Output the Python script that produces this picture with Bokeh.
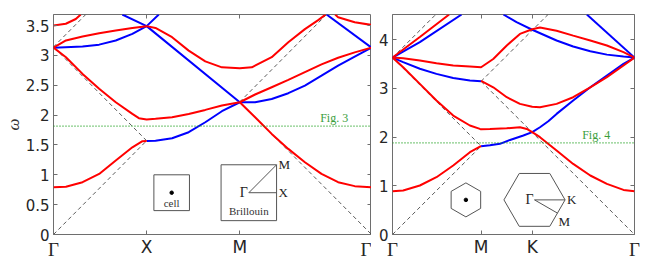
import math
from bokeh.plotting import figure
from bokeh.models import Range1d, FixedTicker, LinearAxis, Label, Span
from bokeh.layouts import row
from bokeh.embed import file_html
from bokeh.resources import INLINE

# ---------------- data: square lattice (left) ----------------
SQ_TICKS = [0.0, 1.5708, 3.1416, 5.3630]          # Γ, X, M, Γ
SQ_TICK_LABELS = ["Γ", "X", "M", "Γ"]
SQ_YMAX = 3.685
SQ_YTICKS = [0, 0.5, 1, 1.5, 2, 2.5, 3, 3.5]
SQ_LEVEL = 1.814

sq_red_k = [
    [0, 0.21, 0.49, 0.77, 1.05, 1.33, 1.50, 1.5708],
    [0, 0.21, 0.49, 0.77, 1.05, 1.33, 1.44, 1.5708, 1.72, 2.0, 2.28, 2.56, 2.84, 3.1416],
    [0, 0.21, 0.49, 0.77, 1.05, 1.33, 1.5708, 1.72, 2.0, 2.28, 2.56, 2.84, 3.1416,
     3.345, 3.68, 3.96, 4.24, 4.47, 4.59],
    [0, 0.208, 0.376, 0.46],
    [4.75, 4.80, 5.08, 5.363],
    [3.1416, 3.40, 3.68, 3.96, 4.24, 4.52, 4.80, 5.08, 5.363],
    [3.1416, 3.40, 3.68, 3.96, 4.24, 4.52, 4.80, 5.08, 5.363],
]
sq_red_w = [
    [0.79, 0.80, 0.876, 1.015, 1.24, 1.46, 1.563, 1.568],
    [3.13, 2.97, 2.69, 2.44, 2.216, 2.02, 1.948, 1.926, 1.937, 1.965, 2.02, 2.087, 2.16, 2.215],
    [3.13, 3.25, 3.317, 3.372, 3.417, 3.46, 3.49, 3.46, 3.305, 3.08, 2.90, 2.80, 2.786,
     2.80, 2.97, 3.22, 3.44, 3.595, 3.685],
    [3.50, 3.53, 3.61, 3.685],
    [3.685, 3.64, 3.556, 3.51],
    [2.215, 2.345, 2.467, 2.59, 2.72, 2.85, 2.96, 3.05, 3.13],
    [2.215, 1.965, 1.685, 1.434, 1.21, 1.015, 0.876, 0.81, 0.79],
]
sq_blue_k = [
    [0, 0.49, 0.77, 1.05, 1.33, 1.5708, 1.776],
    [1.16, 1.5708, 3.1416],
    [1.5708, 1.72, 2.0, 2.28, 2.56, 2.84, 3.1416],
    [3.1416, 3.40, 3.68, 3.96, 4.24, 4.52, 4.80, 5.08, 5.363],
    [4.605, 5.363],
]
sq_blue_w = [
    [3.13, 3.15, 3.18, 3.25, 3.36, 3.49, 3.685],
    [3.685, 3.49, 2.215],
    [1.568, 1.57, 1.613, 1.713, 1.88, 2.065, 2.215],
    [2.215, 2.216, 2.27, 2.367, 2.495, 2.66, 2.83, 2.98, 3.13],
    [3.685, 3.13],
]
sq_dash_k = [[0, 1.5708], [1.5708, 0], [0, 0.544], [3.1416, 5.363], [3.1416, 4.605]]
sq_dash_w = [[0, 1.5708], [1.5708, 3.1416], [3.1416, 3.685], [2.2214, 0], [2.2214, 3.685]]

# ---------------- data: hexagonal lattice (right) ----------------
HX_TICKS = [0.0, 1.8138, 2.8610, 4.9554]          # Γ, M, K, Γ
HX_TICK_LABELS = ["Γ", "M", "K", "Γ"]
HX_YMAX = 4.513
HX_YTICKS = [0, 1, 2, 3, 4]
HX_LEVEL = 1.879

hx_red_k = [
    [0, 0.218, 0.56, 0.90, 1.243, 1.585, 1.79, 1.8138],
    [0, 0.218, 0.56, 0.90, 1.243, 1.585, 1.79, 1.8138, 1.995, 2.338, 2.61, 2.75, 2.861,
     3.02, 3.36, 3.70, 4.05, 4.39, 4.73, 4.9554],
    [1.8138, 2.063, 2.34, 2.61, 2.861, 3.02, 3.36, 3.70, 4.05, 4.39, 4.73, 4.9554],
    [0, 0.218, 0.56, 0.90, 1.243, 1.585, 1.8138, 2.063, 2.34, 2.61, 2.861, 3.02, 3.36,
     3.70, 4.05, 4.39, 4.73, 4.9554],
    [0, 0.56, 1.16],
]
hx_red_w = [
    [0.888, 0.902, 1.005, 1.175, 1.415, 1.688, 1.805, 1.81],
    [3.63, 3.43, 3.09, 2.75, 2.44, 2.236, 2.166, 2.16, 2.166, 2.18, 2.20, 2.166, 2.10,
     1.996, 1.723, 1.448, 1.21, 1.038, 0.915, 0.888],
    [3.15, 3.02, 2.816, 2.68, 2.62, 2.61, 2.68, 2.816, 3.02, 3.227, 3.467, 3.63],
    [3.63, 3.617, 3.57, 3.514, 3.467, 3.446, 3.43, 3.60, 3.877, 4.115, 4.21, 4.245, 4.18,
     4.08, 3.98, 3.877, 3.74, 3.63],
    [3.63, 4.05, 4.513],
]
hx_blue_k = [
    [1.8138, 1.995, 2.2, 2.406, 2.68, 2.861, 3.02, 3.19, 3.36, 3.70, 4.05, 4.39, 4.73, 4.9554],
    [0, 0.218, 0.56, 0.90, 1.243, 1.585, 1.8138],
    [2.27, 2.54, 2.861, 3.36, 3.70, 4.05, 4.39, 4.73, 4.9554],
    [3.98, 4.9554],
    [0, 0.56, 1.415],
]
hx_blue_w = [
    [1.81, 1.83, 1.86, 1.94, 2.03, 2.10, 2.20, 2.324, 2.474, 2.75, 3.02, 3.26, 3.50, 3.63],
    [3.63, 3.535, 3.40, 3.295, 3.21, 3.16, 3.145],
    [4.513, 4.355, 4.20, 3.98, 3.856, 3.76, 3.69, 3.65, 3.63],
    [4.513, 3.63],
    [3.63, 3.945, 4.513],
]
hx_dash_k = [[0, 1.8138], [0, 1.8138], [0, 0.886], [1.8138, 3.185], [1.8138, 4.9554]]
hx_dash_w = [[0, 1.8138], [3.6276, 1.8138], [3.6276, 4.513], [3.1416, 4.513], [3.1416, 0]]

# ---------------- styling ----------------
RED = "#ff0000"
BLUE = "#0000ff"
GREEN = "#139a13"
GREEN_TXT = "#3a9e3a"
FRAME = "#6e6e6e"
INSET = "#555555"
SANS = "DejaVu Sans"
SERIF = "Liberation Serif"
LBL = "#262626"


def style_axes(p, xticks, xlabels, yticks, ylabels):
    xa = p.xaxis[0]
    xa.ticker = FixedTicker(ticks=xticks)
    xa.major_label_overrides = {t: ("" if s == "Γ" else s) for t, s in zip(xticks, xlabels)}
    xa.major_label_text_font = SANS
    xa.major_label_text_font_size = "17px"
    xa.major_label_text_color = LBL
    xa.major_label_standoff = 2
    ya = p.yaxis[0]
    ya.ticker = FixedTicker(ticks=yticks)
    ya.major_label_overrides = dict(zip(yticks, ylabels))
    ya.major_label_text_font = SANS
    ya.major_label_text_font_size = "15px"
    ya.major_label_text_color = LBL
    ya.major_label_standoff = 4
    for ax in (xa, ya):
        ax.axis_line_color = None
        ax.major_tick_in = 4
        ax.major_tick_out = 0
        ax.minor_tick_line_color = None
        ax.major_tick_line_color = FRAME
    # serif Γ labels on an overlapping second bottom axis
    gt = [t for t, s in zip(xticks, xlabels) if s == "Γ"]
    gax = LinearAxis(ticker=FixedTicker(ticks=gt), axis_line_color=None,
                     major_tick_line_color=None, major_tick_in=0, major_tick_out=0,
                     minor_tick_line_color=None, major_label_standoff=-21,
                     major_label_text_font=SERIF, major_label_text_font_size="19px",
                     major_label_text_color=LBL)
    gax.major_label_overrides = {t: "Γ" for t in gt}
    p.add_layout(gax, "below")
    # mirror ticks
    top = LinearAxis(ticker=FixedTicker(ticks=xticks), major_label_text_font_size="0px",
                     axis_line_color=None, major_tick_in=4, major_tick_out=0,
                     minor_tick_line_color=None, major_tick_line_color=FRAME,
                     major_label_standoff=0)
    top.major_label_overrides = {t: "" for t in xticks}
    right = LinearAxis(ticker=FixedTicker(ticks=yticks), major_label_text_font_size="0px",
                       axis_line_color=None, major_tick_in=4, major_tick_out=0,
                       minor_tick_line_color=None, major_tick_line_color=FRAME,
                       major_label_standoff=0)
    right.major_label_overrides = {t: "" for t in yticks}
    p.add_layout(top, "above")
    p.add_layout(right, "right")


def make_fig(xmax, ymax, fw, fh, bl, br):
    p = figure(frame_width=fw, frame_height=fh, x_range=Range1d(0, xmax),
               y_range=Range1d(0, ymax), output_backend="svg", toolbar_location=None,
               min_border_left=bl, min_border_right=br, min_border_top=14,
               min_border_bottom=10)
    p.grid.visible = False
    p.outline_line_color = FRAME
    p.outline_line_width = 1
    p.background_fill_color = "white"
    p.border_fill_color = "white"
    return p


def draw_bands(p, rk, rw, bk, bw, dk, dw):
    for k, w in zip(dk, dw):
        p.line(k, w, line_color="#4a4a4a", line_width=0.9, line_dash="4 3")
    for k, w in zip(bk, bw):
        p.line(k, w, line_color=BLUE, line_width=2)
    for k, w in zip(rk, rw):
        p.line(k, w, line_color=RED, line_width=2)


# ---------------- left figure ----------------
p1 = make_fig(SQ_TICKS[-1], SQ_YMAX, 318, 220, 46, 0)
style_axes(p1, SQ_TICKS, SQ_TICK_LABELS, SQ_YTICKS,
           ["0", "0.5", "1", "1.5", "2", "2.5", "3", "3.5"])
p1.yaxis[0].axis_label = "ω"
p1.yaxis[0].axis_label_text_font = SERIF
p1.yaxis[0].axis_label_text_font_style = "italic"
p1.yaxis[0].axis_label_text_font_size = "17px"
p1.yaxis[0].axis_label_text_color = "#333333"
p1.yaxis[0].axis_label_standoff = 0
p1.add_layout(Span(location=SQ_LEVEL, dimension="width", line_color=GREEN,
                   line_width=1.2, line_dash="1 2"))
draw_bands(p1, sq_red_k, sq_red_w, sq_blue_k, sq_blue_w, sq_dash_k, sq_dash_w)
p1.add_layout(Label(x=4.97, y=SQ_LEVEL, text="Fig. 3", text_align="right",
                    text_baseline="bottom", y_offset=1, text_font=SERIF,
                    text_font_size="12px", text_color=GREEN_TXT))

# insets (left): unit cell and Brillouin zone
cx1, cy1, h1 = 1.993, 0.70, 0.30
p1.rect(x=[cx1], y=[cy1], width=2 * h1, height=2 * h1, fill_color=None,
        line_color=INSET, line_width=1)
p1.scatter(x=[cx1], y=[cy1], size=3.5, color="black")
p1.add_layout(Label(x=cx1, y=0.533, text="cell", text_align="center", text_baseline="middle",
                    text_font=SERIF, text_font_size="11px", text_color="#333333"))
cx2, cy2, h2 = 3.294, 0.70, 0.468
p1.rect(x=[cx2], y=[cy2], width=2 * h2, height=2 * h2, fill_color=None,
        line_color=INSET, line_width=1)
p1.line([cx2 + h2, cx2, cx2 + h2], [cy2 + h2, cy2, cy2], line_color=INSET, line_width=1)
p1.add_layout(Label(x=cx2, y=cy2, text="Γ", text_align="right", text_baseline="middle",
                    x_offset=-1, text_font=SERIF, text_font_size="14px", text_color="#222222"))
p1.add_layout(Label(x=cx2 + h2, y=cy2 + h2, text="M", text_align="left", text_baseline="middle",
                    x_offset=2, text_font=SERIF, text_font_size="13px", text_color="#222222"))
p1.add_layout(Label(x=cx2 + h2, y=cy2, text="X", text_align="left", text_baseline="middle",
                    x_offset=2, text_font=SERIF, text_font_size="13px", text_color="#222222"))
p1.add_layout(Label(x=cx2, y=0.39, text="Brillouin", text_align="center", text_baseline="middle",
                    text_font=SERIF, text_font_size="11px", text_color="#333333"))

# ---------------- right figure ----------------
p2 = make_fig(HX_TICKS[-1], HX_YMAX, 242, 220, 21, 8)
style_axes(p2, HX_TICKS, HX_TICK_LABELS, HX_YTICKS, ["0", "1", "2", "3", "4"])
p2.add_layout(Span(location=HX_LEVEL, dimension="width", line_color=GREEN,
                   line_width=1.2, line_dash="1 2"))
draw_bands(p2, hx_red_k, hx_red_w, hx_blue_k, hx_blue_w, hx_dash_k, hx_dash_w)
p2.add_layout(Label(x=4.457, y=HX_LEVEL, text="Fig. 4", text_align="right",
                    text_baseline="bottom", y_offset=1, text_font=SERIF,
                    text_font_size="12px", text_color=GREEN_TXT))


def hexagon(cx, cy, r, start):
    xs = [cx + r * math.cos(math.radians(start + 60 * i)) for i in range(6)]
    ys = [cy + r * math.sin(math.radians(start + 60 * i)) for i in range(6)]
    return xs, ys


hx1, hy1, hr1 = 1.503, 0.71, 0.349
xs, ys = hexagon(hx1, hy1, hr1, 90)
p2.patch(xs, ys, fill_color=None, line_color=INSET, line_width=1)
p2.scatter(x=[hx1], y=[hy1], size=3.5, color="black")
hx2, hy2, hr2 = 2.908, 0.71, 0.626
xs, ys = hexagon(hx2, hy2, hr2, 0)
p2.patch(xs, ys, fill_color=None, line_color=INSET, line_width=1)
mx, my = hx2 + 0.75 * hr2, hy2 - 0.433 * hr2
p2.line([hx2 + hr2, hx2, mx], [hy2, hy2, my], line_color=INSET, line_width=1)
p2.add_layout(Label(x=hx2, y=hy2, text="Γ", text_align="right", text_baseline="middle",
                    x_offset=-1, text_font=SERIF, text_font_size="14px", text_color="#222222"))
p2.add_layout(Label(x=hx2 + hr2, y=hy2, text="K", text_align="left", text_baseline="middle",
                    x_offset=2, text_font=SERIF, text_font_size="13px", text_color="#222222"))
p2.add_layout(Label(x=mx, y=my, text="M", text_align="left", text_baseline="top",
                    x_offset=1, y_offset=-1, text_font=SERIF, text_font_size="13px",
                    text_color="#222222"))

layout = row(p1, p2)
open("out.html", "w").write(file_html(layout, INLINE))
